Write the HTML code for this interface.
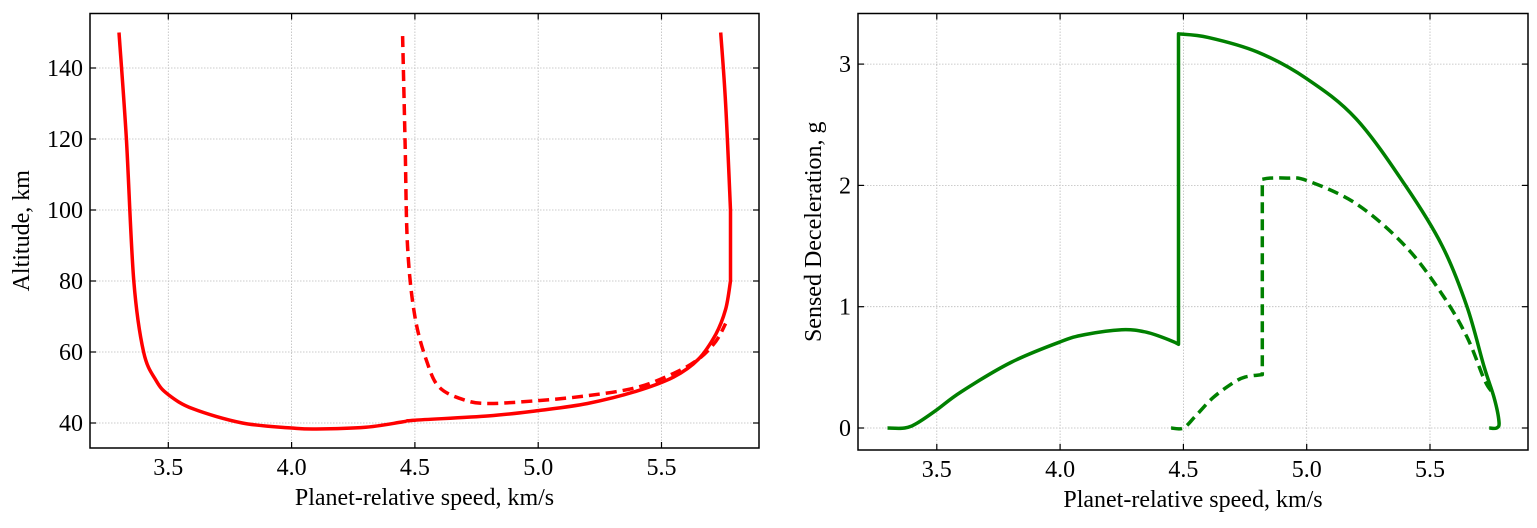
<!DOCTYPE html>
<html><head><meta charset="utf-8"><style>
body{margin:0;background:#fff;}
svg text{font-family:"Liberation Serif",serif;fill:#000;}
</style></head><body>
<svg id="s" width="1537" height="523" xmlns="http://www.w3.org/2000/svg"></svg>
<script>
const xTicks=[3.5,4.0,4.5,5.0,5.5];
const altTicks=[40,60,80,100,120,140];
const decTicks=[0,1,2,3];
const altSolidV=[3.30,3.33,3.36,3.40,3.45,3.5,3.6,3.8,4.0,4.1,4.3,4.45,4.5,4.8,5.0,5.2,5.4,5.55,5.65,5.72,5.76,5.78,5.78,5.76,5.74];
const altSolidH=[150,120,80,60,52,48,44,40,38.6,38.3,38.8,40.3,40.8,42,43.5,45.5,49,53,58,65,72,80,100,130,150];
const altDashV=[4.45,4.46,4.47,4.5,4.55,4.6,4.7,4.8,5.0,5.2,5.4,5.55,5.65,5.72,5.76];
const altDashH=[149,120,90,70,57,50,46.5,45.5,46.3,47.7,50,54,58,63,68];
const decSolidV=[3.30,3.37,3.42,3.5,3.6,3.8,4.0,4.1,4.25,4.35,4.45,4.48,4.48,4.6,4.8,5.0,5.2,5.4,5.55,5.65,5.72,5.76,5.78,5.77,5.74];
const decSolidG=[0,0,0.04,0.15,0.3,0.54,0.71,0.77,0.81,0.79,0.72,0.69,3.25,3.22,3.1,2.88,2.55,2.0,1.5,1.0,0.5,0.25,0.05,0,0];
const decDashV=[4.45,4.5,4.55,4.62,4.7,4.75,4.82,4.82,4.85,4.92,5.0,5.2,5.4,5.55,5.65,5.72,5.75];
const decDashG=[0,0,0.1,0.25,0.37,0.42,0.44,2.05,2.06,2.06,2.04,1.85,1.5,1.1,0.75,0.4,0.3];

const S=document.getElementById('s');const NS='http://www.w3.org/2000/svg';
function mk(t,a,p){const e=document.createElementNS(NS,t);for(const k in a)e.setAttribute(k,a[k]);(p||S).appendChild(e);return e;}
function smooth(pts,vs){
  // split at vertical jumps (equal consecutive v)
  const segs=[];let cur=[pts[0]];
  for(let i=1;i<pts.length;i++){if(vs[i]===vs[i-1]&&Math.abs(pts[i][1]-pts[i-1][1])>20){segs.push(cur);cur=[pts[i]];}else cur.push(pts[i]);}
  segs.push(cur);
  let d='';
  segs.forEach((s,si)=>{
    d+=(si?'L':'M')+s[0][0].toFixed(1)+','+s[0][1].toFixed(1);
    for(let i=0;i<s.length-1;i++){
      const p0=s[Math.max(0,i-1)],p1=s[i],p2=s[i+1],p3=s[Math.min(s.length-1,i+2)];
      const c1=[p1[0]+(p2[0]-p0[0])/6,p1[1]+(p2[1]-p0[1])/6];
      const c2=[p2[0]-(p3[0]-p1[0])/6,p2[1]-(p3[1]-p1[1])/6];
      d+='C'+c1.map(v=>v.toFixed(1))+' '+c2.map(v=>v.toFixed(1))+' '+p2.map(v=>v.toFixed(1));
    }
  });
  return d;
}
function panel(o){
  const g=mk('g',{});
  
  
  const X=v=>o.x35+(v-3.5)*o.kx, Y=v=>o.y0+(v-o.v0)*o.ky;
  xTicks.forEach(t=>{const x=X(t);
    const l=mk('line',{x1:x,x2:x,y1:o.T,y2:o.B,stroke:'#bbb','stroke-width':0.8,'stroke-dasharray':'1.5,1.5'},g);
    
    mk('line',{x1:x,x2:x,y1:o.B,y2:o.B-6,stroke:'#000','stroke-width':1.2},g);
    mk('line',{x1:x,x2:x,y1:o.T,y2:o.T+6,stroke:'#000','stroke-width':1.2},g);
    const tx=mk('text',{x:x,y:o.B+27,'font-size':24,'text-anchor':'middle'},g);tx.textContent=t.toFixed(1);
    });
  o.yt.forEach(t=>{const y=Y(t);
    const l=mk('line',{x1:o.L,x2:o.R,y1:y,y2:y,stroke:'#bbb','stroke-width':0.8,'stroke-dasharray':'1.5,1.5'},g);
    
    mk('line',{x1:o.L,x2:o.L+6,y1:y,y2:y,stroke:'#000','stroke-width':1.2},g);
    mk('line',{x1:o.R,x2:o.R-6,y1:y,y2:y,stroke:'#000','stroke-width':1.2},g);
    const tx=mk('text',{x:o.L-7,y:y+8,'font-size':24,'text-anchor':'end'},g);tx.textContent=t;
    });
  o.series.forEach(s=>{
    const pts=s.v.map((v,i)=>[X(v),Y(s.y[i])]);
    const p=mk('path',{d:smooth(pts,s.v),fill:'none',stroke:o.col,'stroke-width':3.5,'stroke-linejoin':'round','stroke-dasharray':s.dash?'11,6':'none'},g);
    });
  const r=mk('rect',{x:o.L,y:o.T,width:o.R-o.L,height:o.B-o.T,fill:'none',stroke:'#000','stroke-width':1.5},g);
  
  const xl=mk('text',{x:(o.L+o.R)/2,y:o.B+57,'font-size':24,'text-anchor':'middle'},g);xl.textContent='Planet-relative speed, km/s';
  
  const cy=(o.T+o.B)/2;
  const yl=mk('text',{x:o.ylx,y:cy,'font-size':24,'text-anchor':'middle',transform:`rotate(-90 ${o.ylx} ${cy})`},g);yl.textContent=o.ylab;
  
}
panel({name:'altitude-chart',L:90,R:759,T:13.5,B:448,x35:168.3,kx:246.6,y0:423,v0:40,ky:-3.55,yt:altTicks,col:'#ff0000',ylab:'Altitude, km',ylx:29,
  series:[{name:'altitude-solid-line',v:altSolidV,y:altSolidH},{name:'altitude-dashed-line',v:altDashV,y:altDashH,dash:true}]});
panel({name:'deceleration-chart',L:858,R:1528,T:13.5,B:450,x35:936.8,kx:246.6,y0:428,v0:0,ky:-121.3,yt:decTicks,col:'#008000',ylab:'Sensed Deceleration, g',ylx:821,
  series:[{name:'decel-solid-line',v:decSolidV,y:decSolidG},{name:'decel-dashed-line',v:decDashV,y:decDashG,dash:true}]});
</script>
</body></html>
